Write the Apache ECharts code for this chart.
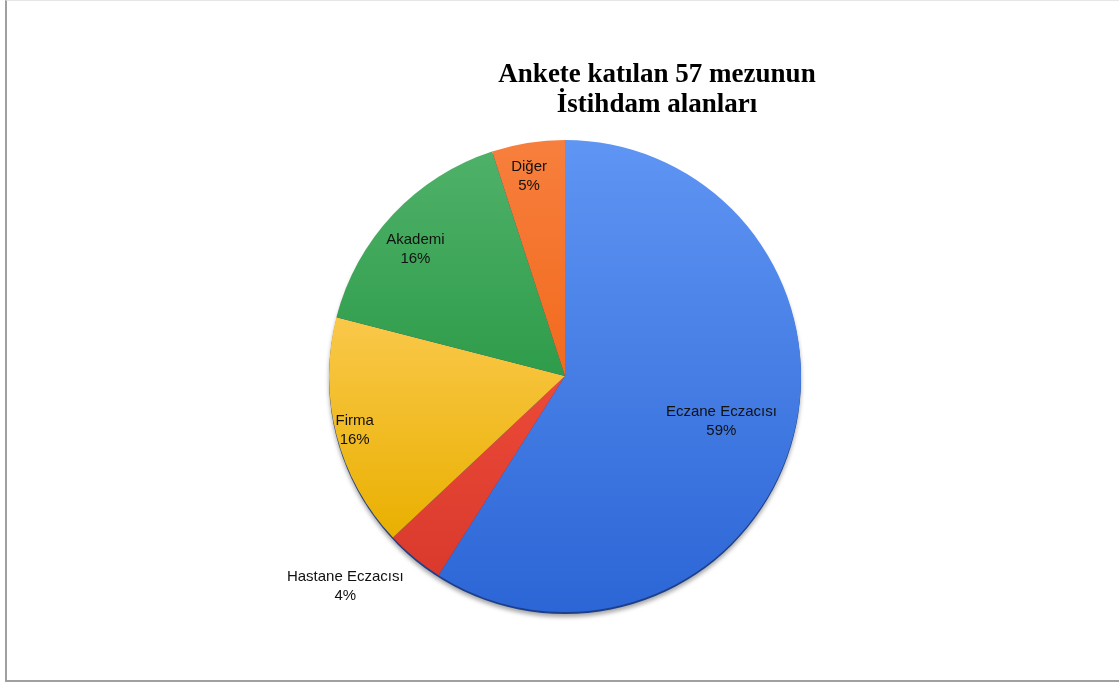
<!DOCTYPE html>
<html>
<head>
<meta charset="utf-8">
<script src="https://cdn.jsdelivr.net/npm/echarts@6/dist/echarts.min.js"></script>
<style>
  html, body { margin: 0; padding: 0; background: #fff; }
  #frame { position: absolute; left: 5px; top: 0; width: 1120px; height: 679px;
           border-left: 2px solid #a0a0a0; border-bottom: 2px solid #a0a0a0; border-top: 1px solid #e6e6e6; box-sizing: content-box; }
  #main { position: absolute; left: 0; top: 0; width: 1119px; height: 682px; }
</style>
</head>
<body>
<div id="frame"></div>
<div id="main"></div>
<script>
// ---- data ----
const titleText = 'Ankete katılan 57 mezunun\nİstihdam alanları';
const categories = ['Eczane Eczacısı', 'Hastane Eczacısı', 'Firma', 'Akademi', 'Diğer'];
const percents = [59, 4, 16, 16, 5];

// ---- styling / layout (not data) ----
const topColors    = ['#5f95f3', '#ec4a38', '#fac84a', '#4fb169', '#f77f3d'];
const bottomColors = ['#2c66d6', '#d93a2c', '#e9b000', '#2e9c4a', '#f26a1d'];
const labelRadiusFactor = [0.69, 1.29, 0.92, 0.83, 0.86];
const labelAngleShift   = [0, 6.6, 0, -3, -1.2]; // degrees clockwise
const cx = 565, cy = 378, R = 236;

const chart = echarts.init(document.getElementById('main'), null, { renderer: 'canvas' });

const seriesData = categories.map((name, i) => ({
  name: name,
  value: percents[i],
  itemStyle: {
    color: new echarts.graphic.LinearGradient(0, 0, 0, 1, [
      { offset: 0, color: topColors[i] },
      { offset: 1, color: bottomColors[i] }
    ])
  }
}));

chart.setOption({
  animation: false,
  title: {
    text: titleText,
    left: 652,
    top: 55,
    textAlign: 'center',
    textStyle: {
      fontFamily: 'Liberation Serif, Times New Roman, serif',
      fontWeight: 'bold',
      fontSize: 27,
      lineHeight: 30,
      color: '#000'
    }
  },
  series: [
    {
      // 3D rim / shadow base
      type: 'pie',
      silent: true,
      center: [cx, cy],
      radius: [0, R],
      z: 1,
      label: { show: false },
      labelLine: { show: false },
      itemStyle: {
        color: '#1d3f8a',
        shadowColor: 'rgba(0,0,0,0.35)',
        shadowBlur: 4,
        shadowOffsetY: 3
      },
      data: [{ value: 1, name: '' }],
      tooltip: { show: false }
    },
    {
      type: 'pie',
      center: [cx, cy - 2],
      radius: [0, R],
      startAngle: 90,
      clockwise: true,
      z: 2,
      itemStyle: { borderWidth: 0 },
      label: {
        show: true,
        position: 'inside',
        formatter: '{b}\n{d}%',
        fontFamily: 'Liberation Sans, Arial, sans-serif',
        fontSize: 15,
        lineHeight: 19,
        color: '#111'
      },
      labelLine: { show: false },
      labelLayout: function (params) {
        const i = params.dataIndex;
        const r = params.labelRect;
        const lx = r.x + r.width / 2;
        const ly = r.y + r.height / 2;
        const vx = lx - cx, vy = ly - (cy - 2);
        const d = Math.sqrt(vx * vx + vy * vy) || 1;
        const a = labelAngleShift[i] * Math.PI / 180;
        const ux = vx / d, uy = vy / d;
        const rx = ux * Math.cos(a) - uy * Math.sin(a);
        const ry = ux * Math.sin(a) + uy * Math.cos(a);
        const dist = labelRadiusFactor[i] * R;
        const nx = cx + rx * dist, ny = (cy - 2) + ry * dist;
        return { dx: nx - lx, dy: ny - ly };
      },
      data: seriesData
    }
  ]
});
</script>
</body>
</html>
